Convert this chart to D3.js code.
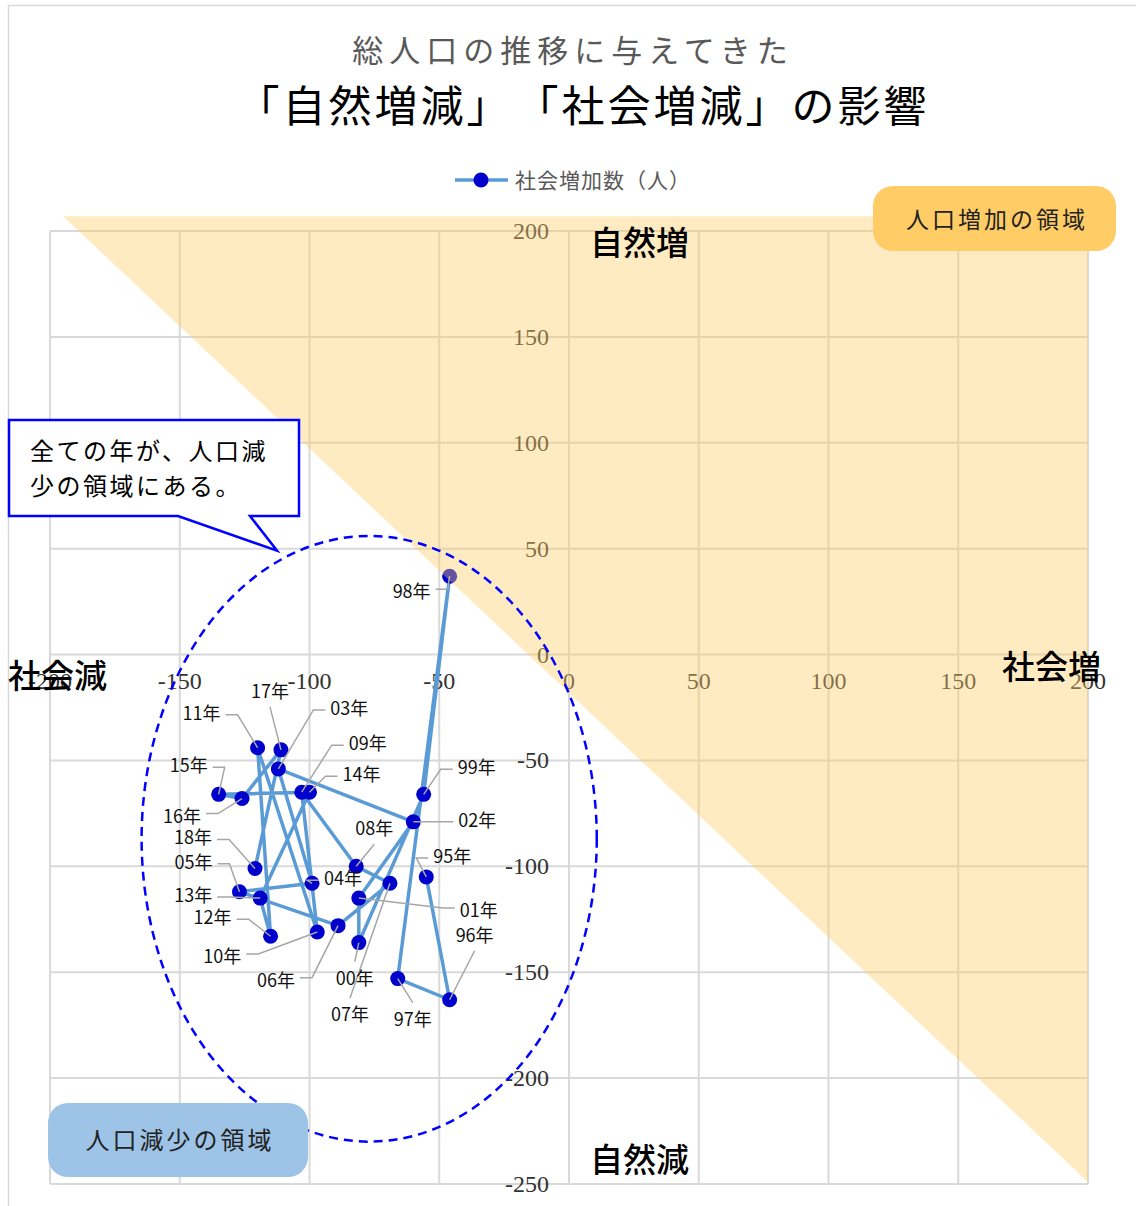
<!DOCTYPE html>
<html>
<head>
<meta charset="utf-8">
<script src="https://cdn.jsdelivr.net/npm/d3@7"></script>
<style>
  body { margin: 0; background: #fff; }
  svg { display: block; }
</style>
</head>
<body>
<div id="chart"></div>
<script>
// data: x = 社会増減, y = 自然増減
const years = ["95年","96年","97年","98年","99年","00年","01年","02年","03年","04年","05年","06年",
               "07年","08年","09年","10年","11年","12年","13年","14年","15年","16年","17年","18年"];
const socialIncrease = [-55, -46, -66, -46, -56, -81, -81, -60, -112, -99, -127, -89,
                        -69, -82, -103, -97, -120, -115, -119, -100, -135, -126, -111, -121];
const naturalIncrease = [-105, -163, -153, 37, -66, -136, -115, -79, -54, -108, -112, -128,
                         -108, -100, -65, -131, -44, -133, -115, -65, -66, -68, -45, -101];
const xTicks = [-200, -150, -100, -50, 0, 50, 100, 150, 200];
const yTicks = [-250, -200, -150, -100, -50, 0, 50, 100, 150, 200];

// where each data label sits relative to its point (px)
const labelOffsets = [[26,-21],[25,-65],[15,40],[-38,15],[53,-27],[-4,35],[120,12],[64,-2],
                      [71,-61],[31,-5],[-46,-30],[-62,54],[-40,131],[18,-38],[66,-49],[-95,24],
                      [-56,-35],[-58,-19],[-67,-3],[52,-18],[-30,-29],[-60,17],[-11,-59],[-62,-31]];

const W = 1136, H = 1206;
const jp = "'Noto Sans CJK JP', 'Noto Sans', sans-serif";
const serif = "'Liberation Serif', 'DejaVu Serif', serif";

const svg = d3.select("#chart").append("svg")
    .attr("width", W).attr("height", H);

// chart frame
svg.append("rect")
    .attr("x", 8.5).attr("y", 5.5).attr("width", W + 20).attr("height", H + 20)
    .attr("fill", "none").attr("stroke", "#d9d9d9").attr("stroke-width", 1.5);

const x = d3.scaleLinear().domain([-200, 200]).range([50, 1088]);
const y = d3.scaleLinear().domain([-250, 200]).range([1184, 231]);

// grid
const grid = svg.append("g").attr("stroke", "#d9d9d9").attr("stroke-width", 2);
grid.selectAll("line.v").data(xTicks).join("line").attr("class", "v")
    .attr("x1", d => x(d)).attr("x2", d => x(d))
    .attr("y1", y(200)).attr("y2", y(-250));
grid.selectAll("line.h").data(yTicks).join("line").attr("class", "h")
    .attr("y1", d => y(d)).attr("y2", d => y(d))
    .attr("x1", x(-200)).attr("x2", x(200));

// tick labels (axes cross at 0)
svg.append("g").selectAll("text").data(xTicks).join("text")
    .attr("x", d => x(d)).attr("y", y(0) + 34)
    .attr("text-anchor", "middle")
    .attr("font-family", serif).attr("font-size", 24).attr("fill", "#333")
    .text(d => d);
svg.append("g").selectAll("text").data(yTicks).join("text")
    .attr("x", x(0) - 20).attr("y", d => y(d) + 8)
    .attr("text-anchor", "end")
    .attr("font-family", serif).attr("font-size", 24).attr("fill", "#333")
    .text(d => d);

// series
const pts = years.map((yr, i) => ({ yr, sx: socialIncrease[i], ny: naturalIncrease[i], off: labelOffsets[i] }));

svg.append("path")
    .datum(pts)
    .attr("fill", "none")
    .attr("stroke", "#5b9bd5")
    .attr("stroke-width", 3.5)
    .attr("stroke-linejoin", "round")
    .attr("d", d3.line().x(d => x(d.sx)).y(d => y(d.ny)));

svg.append("g").selectAll("circle").data(pts).join("circle")
    .attr("cx", d => x(d.sx)).attr("cy", d => y(d.ny))
    .attr("r", 7.5).attr("fill", "#0000cc");

// data labels with leader lines
const hw = 20, hh = 10;
const leaders = svg.append("g").attr("stroke", "#a6a6a6").attr("stroke-width", 1.5).attr("fill", "none");
pts.forEach(d => {
  const px = x(d.sx), py = y(d.ny);
  const lx = px + d.off[0], ly = py + d.off[1];
  const adx = Math.abs(d.off[0]), ady = Math.abs(d.off[1]);
  let path;
  if (adx > hw + 4 && adx > 0.5 * ady) {
    const side = d.off[0] > 0 ? -1 : 1;
    const ex = lx + side * (hw + 4);
    const ey = ly + (d.off[1] > 0 ? -2 : 2);
    path = [[ex, ey], [ex + side * 12, ey], [px, py]];
  } else {
    const ey = ly + (d.off[1] > 0 ? -hh - 6 : hh + 6);
    path = [[lx, ey], [px, py]];
  }
  if (Math.hypot(d.off[0], d.off[1]) > 25) {
    leaders.append("path").attr("d", d3.line()(path));
  }
});
svg.append("g").selectAll("text").data(pts).join("text")
    .attr("x", d => x(d.sx) + d.off[0]).attr("y", d => y(d.ny) + d.off[1] + 7)
    .attr("text-anchor", "middle")
    .attr("font-family", jp).attr("font-size", 18).attr("fill", "#111")
    .text(d => d.yr);

// population increase region (social + natural > 0), translucent on top
const triangle = [[-195, 207], [200, 207], [200, -249]];
svg.append("path")
    .attr("d", d3.line().x(d => x(d[0])).y(d => y(d[1])).curve(d3.curveLinearClosed)(triangle))
    .attr("fill", "#ffcc66").attr("fill-opacity", 0.4);

// dashed ellipse around all years
const ell = { cx: -77, cy: -87, rx: 87.7, ry: 143 };
svg.append("ellipse")
    .attr("cx", x(ell.cx)).attr("cy", y(ell.cy))
    .attr("rx", x(ell.rx) - x(0)).attr("ry", y(0) - y(ell.ry))
    .attr("fill", "none").attr("stroke", "#0000ff").attr("stroke-width", 2.5)
    .attr("stroke-dasharray", "9,6");

// axis titles
const axisTitles = [["自然増", 590, 255], ["自然減", 590, 1172], ["社会減", 8, 688], ["社会増", 1002, 679]];
svg.append("g").selectAll("text").data(axisTitles).join("text")
    .attr("x", d => d[1]).attr("y", d => d[2])
    .attr("font-family", jp).attr("font-size", 33).attr("font-weight", 500).attr("fill", "#000")
    .text(d => d[0]);

// title
svg.append("text").attr("x", 573).attr("y", 62).attr("text-anchor", "middle")
    .attr("font-family", jp).attr("font-size", 31).attr("letter-spacing", 6).attr("fill", "#595959")
    .text("総人口の推移に与えてきた");
svg.append("text").attr("x", 583).attr("y", 122).attr("text-anchor", "middle")
    .attr("font-family", jp).attr("font-size", 43).attr("letter-spacing", 3).attr("fill", "#000")
    .text("「自然増減」　「社会増減」の影響");

// legend
const lg = svg.append("g");
lg.append("line").attr("x1", 455).attr("x2", 508).attr("y1", 180).attr("y2", 180)
    .attr("stroke", "#5b9bd5").attr("stroke-width", 3.5);
lg.append("circle").attr("cx", 481).attr("cy", 180).attr("r", 7.5).attr("fill", "#0000cc");
lg.append("text").attr("x", 515).attr("y", 188)
    .attr("font-family", jp).attr("font-size", 21).attr("letter-spacing", 1).attr("fill", "#595959")
    .text("社会増加数（人）");

// region boxes
svg.append("rect").attr("x", 873).attr("y", 186).attr("width", 243).attr("height", 65)
    .attr("rx", 20).attr("fill", "#ffcc66");
svg.append("text").attr("x", 997).attr("y", 228).attr("text-anchor", "middle")
    .attr("font-family", jp).attr("font-size", 23).attr("letter-spacing", 3).attr("fill", "#222")
    .text("人口増加の領域");
svg.append("rect").attr("x", 48).attr("y", 1103).attr("width", 260).attr("height", 74)
    .attr("rx", 20).attr("fill", "#9dc3e6");
svg.append("text").attr("x", 180).attr("y", 1149).attr("text-anchor", "middle")
    .attr("font-family", jp).attr("font-size", 24).attr("letter-spacing", 3).attr("fill", "#222")
    .text("人口減少の領域");

// callout
const tipX = x(-112.5), tipY = y(49);
svg.append("path")
    .attr("d", `M9,420 H299 V516 H250 L${tipX},${tipY} L178,516 H9 Z`)
    .attr("fill", "#fff").attr("stroke", "#0000ff").attr("stroke-width", 2.5)
    .attr("stroke-linejoin", "miter");
svg.append("g").selectAll("text").data(["全ての年が、人口減", "少の領域にある。"]).join("text")
    .attr("x", 30).attr("y", (d, i) => 460 + i * 35)
    .attr("font-family", jp).attr("font-size", 24).attr("letter-spacing", 2.5).attr("fill", "#000")
    .text(d => d);
</script>
</body>
</html>
